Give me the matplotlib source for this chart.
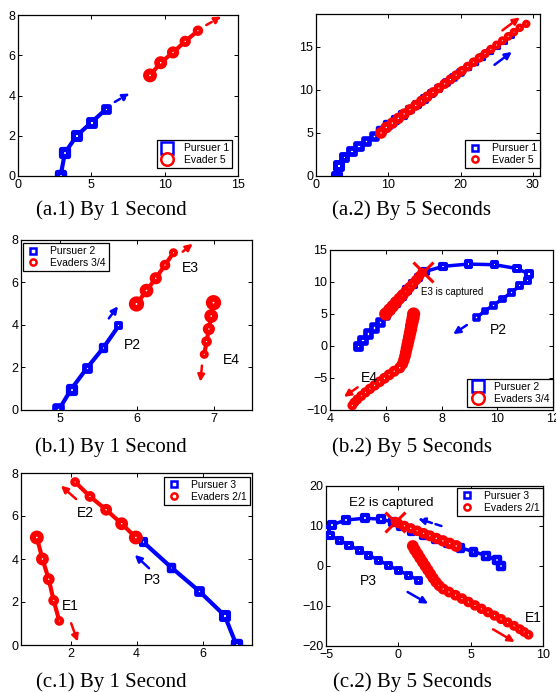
import numpy as np
import matplotlib
matplotlib.use('Agg')
from matplotlib import pyplot as plt
from matplotlib.lines import Line2D

# ---- (a) pursuer 1 / evader 5
a1_p1_x = [2.9, 3.2, 4.0, 5.0, 6.0]
a1_p1_y = [0.0, 1.15, 2.0, 2.66, 3.32]
a1_e5_x = [9.0, 9.73, 10.57, 11.4, 12.27]
a1_e5_y = [5.0, 5.63, 6.14, 6.69, 7.22]

a2_p1_x = [2.85, 3.13, 3.9, 4.94, 5.9, 6.9, 7.97, 9.0, 10.0, 11.0, 12.0, 13.0, 14.0,
           15.0, 16.0, 17.0, 18.0, 19.0, 20.0, 21.0, 22.0, 23.0, 24.0, 25.0, 26.0, 27.0]
a2_p1_y = [0.0, 1.23, 2.18, 2.87, 3.45, 4.02, 4.6, 5.25, 5.87, 6.5, 7.1, 7.72, 8.33,
           8.95, 9.56, 10.18, 10.8, 11.41, 12.03, 12.64, 13.26, 13.87, 14.49, 15.1, 15.72, 16.33]
a2_e5_x = [9.0, 9.73, 10.57, 11.4, 12.2, 13.0, 13.8, 14.6, 15.4, 16.2, 17.0, 17.8, 18.6,
           19.4, 20.2, 21.0, 21.8, 22.6, 23.4, 24.2, 25.0, 25.8, 26.6, 27.4, 28.2, 29.1]
a2_e5_y = [5.0, 5.63, 6.14, 6.69, 7.2, 7.7, 8.2, 8.7, 9.2, 9.7, 10.2, 10.7, 11.2,
           11.7, 12.2, 12.7, 13.2, 13.7, 14.2, 14.7, 15.2, 15.7, 16.2, 16.7, 17.2, 17.65]

# ---- (b) pursuer 2 / evaders 3 and 4
b1_p2_x = [4.99, 5.15, 5.36, 5.57, 5.77]
b1_p2_y = [0.0, 0.97, 1.99, 2.93, 3.97]
b1_e3_x = [6.0, 6.13, 6.25, 6.37, 6.48]
b1_e3_y = [4.99, 5.62, 6.2, 6.82, 7.4]
b1_e4_x = [7.0, 6.97, 6.94, 6.91, 6.88]
b1_e4_y = [5.05, 4.42, 3.81, 3.22, 2.62]

b2_p2_x = [5.0, 5.17, 5.35, 5.57, 5.78, 5.98, 6.17, 6.37, 6.57, 6.77, 6.97, 7.17, 7.4,
           8.06, 8.96, 9.91, 10.71, 11.14, 11.1, 10.81, 10.51, 10.19, 9.85, 9.56, 9.26]
b2_p2_y = [0.0, 0.94, 1.95, 2.9, 3.82, 4.8, 5.78, 6.76, 7.74, 8.72, 9.7, 10.68, 11.62,
           12.45, 12.8, 12.7, 12.1, 11.25, 10.3, 9.4, 8.4, 7.34, 6.36, 5.47, 4.48]
b2_e3_x = [6.0, 6.13, 6.25, 6.37, 6.49, 6.61, 6.73, 6.85, 6.97, 7.09, 7.2, 7.3]
b2_e3_y = [5.0, 5.62, 6.2, 6.82, 7.4, 7.98, 8.56, 9.14, 9.72, 10.3, 10.9, 11.45]
b2_e4_x = [7.0, 6.98, 6.95, 6.92, 6.9, 6.87, 6.84, 6.81, 6.78, 6.75, 6.72, 6.69, 6.65,
           6.6, 6.5, 6.3, 6.12, 5.95, 5.78, 5.6, 5.43, 5.27, 5.12, 4.98, 4.87, 4.8]
b2_e4_y = [5.0, 4.4, 3.8, 3.2, 2.6, 2.0, 1.4, 0.8, 0.2, -0.4, -1.0, -1.6, -2.2,
           -2.8, -3.4, -3.95, -4.5, -5.05, -5.6, -6.15, -6.7, -7.25, -7.8, -8.35, -8.85, -9.3]

# ---- (c) pursuer 3 / evaders 2 and 1
c1_p3_x = [7.03, 6.67, 5.89, 5.06, 4.21]
c1_p3_y = [0.0, 1.37, 2.52, 3.6, 4.78]
c1_e2_x = [3.98, 3.55, 3.08, 2.59, 2.14]
c1_e2_y = [5.0, 5.64, 6.29, 6.91, 7.58]
c1_e1_x = [0.98, 1.15, 1.34, 1.49, 1.66]
c1_e1_y = [5.0, 4.0, 3.06, 2.07, 1.12]

c2_p3_x = [7.1, 6.8, 6.05, 5.2, 4.3, 3.45, 2.6, 1.75, 0.9, 0.15, -0.4, -1.2, -2.3,
           -3.6, -4.6, -5.0, -4.72, -4.05, -3.4, -2.7, -2.05, -1.35, -0.7, 0.0, 0.7, 1.4]
c2_p3_y = [0.0, 1.4, 2.6, 3.6, 4.55, 5.6, 6.65, 7.7, 8.8, 9.9, 11.0, 11.7, 11.95,
           11.5, 10.3, 8.95, 7.67, 6.45, 5.2, 3.95, 2.7, 1.45, 0.2, -1.05, -2.3, -3.55]
c2_e2_x = [4.0, 3.55, 3.08, 2.62, 2.18, 1.74, 1.3, 0.86, 0.42, 0.0, -0.2]
c2_e2_y = [5.0, 5.64, 6.29, 6.92, 7.55, 8.17, 8.8, 9.42, 10.05, 10.65, 11.1]
c2_e1_x = [1.0, 1.15, 1.33, 1.5, 1.68, 1.86, 2.04, 2.22, 2.4, 2.6, 2.82, 3.1, 3.5,
           3.95, 4.4, 4.85, 5.3, 5.75, 6.2, 6.65, 7.1, 7.55, 8.0, 8.4, 8.7, 9.0]
c2_e1_y = [5.0, 4.0, 3.0, 2.0, 1.0, 0.0, -1.0, -2.0, -3.0, -4.0, -4.9, -5.75, -6.5,
           -7.3, -8.15, -9.0, -9.85, -10.7, -11.55, -12.4, -13.25, -14.1, -14.95, -15.8, -16.5, -17.2]

# heading arrows (start, end) and text labels, data coords
a1_arrows = [((6.6, 3.68), (7.6, 4.1), 'b'), ((12.84, 7.5), (13.86, 7.92), 'r')]
a2_arrows = [((25.8, 16.9), (28.2, 18.4), 'r'), ((24.7, 12.9), (27.1, 14.4), 'b')]
b1_arrows = [((5.64, 4.31), (5.76, 4.88), 'b'), ((6.6, 7.45), (6.73, 7.82), 'r'),
             ((6.85, 2.09), (6.83, 1.33), 'r')]
b2_arrows = [((8.91, 3.28), (8.42, 1.85), 'b'), ((4.99, -6.46), (4.5, -7.95), 'r')]
c1_arrows = [((2.17, 6.79), (1.71, 7.41), 'r'), ((4.38, 3.57), (3.95, 4.19), 'b'),
             ((2.02, 1.01), (2.22, 0.16), 'r')]
c2_arrows = [((2.98, 10.0), (1.37, 11.83), 'b'), ((0.64, -6.5), (2.06, -9.42), 'b'),
             ((6.55, -15.83), (8.04, -19.0), 'r')]

W, H = 556, 692
SANS = ['Liberation Sans', 'DejaVu Sans']
SERIF = ['Liberation Serif', 'DejaVu Serif']
plt.rcParams['font.family'] = SANS

fig = plt.figure(figsize=(W / 100, H / 100), dpi=100)


def make_ax(l, t, r, b, xlim, ylim, xticks, yticks):
    ax = fig.add_axes([l / W, 1 - b / H, (r - l) / W, (b - t) / H])
    ax.set_xlim(xlim)
    ax.set_ylim(ylim)
    ax.set_xticks(xticks)
    ax.set_yticks(yticks)
    ax.tick_params(direction='in', top=True, right=True, length=3, width=0.7,
                   labelsize=9, pad=2)
    for s in ax.spines.values():
        s.set_linewidth(0.9)
    return ax


def track(ax, xs, ys, color, marker, big, small, lw=2.6):
    # big/small: outer marker size in points, first -> last
    ax.plot(xs, ys, '-', color=color, lw=lw, zorder=2)
    outer = np.linspace(big, small, len(xs))
    ax.scatter(xs, ys, s=(outer * 0.57) ** 2, marker=marker, facecolors='white',
               edgecolors=color, linewidths=outer * 0.43, zorder=3)


def arrows(ax, lst, dashed=False):
    for (x0, y0), (x1, y1), c in lst:
        ls = (0, (2.5, 1.5)) if dashed else '-'
        ax.annotate('', xy=(x1, y1), xytext=(x0, y0),
                    arrowprops=dict(arrowstyle='-|>', color=c, lw=1.8,
                                    mutation_scale=10, shrinkA=0, shrinkB=0,
                                    linestyle=ls))


def legend(ax, labels, loc, anchor, big=False):
    if big:
        h = [Line2D([], [], ls='none', marker='s', ms=8, mew=1.8, mfc='white', mec='b'),
             Line2D([], [], ls='none', marker='o', ms=9, mew=1.8, mfc='white', mec='r')]
    else:
        h = [Line2D([], [], ls='none', marker='s', ms=4, mew=1.8, mfc='white', mec='b'),
             Line2D([], [], ls='none', marker='o', ms=4.5, mew=1.8, mfc='white', mec='r')]
    lg = ax.legend(h, labels, loc=loc, bbox_to_anchor=anchor, borderaxespad=0,
                   fontsize=7.5, fancybox=False, framealpha=1, edgecolor='black',
                   handlelength=1.4, handletextpad=0.9, borderpad=0.3,
                   labelspacing=0.15)
    lg.get_frame().set_linewidth(0.9)


def label(ax, x, y, s, size=10):
    ax.text(x, y, s, fontsize=size, va='center', zorder=6)


def caption(xc, yc, s):
    fig.text(xc / W, 1 - yc / H, s, ha='center', va='center', fontsize=15,
             family=SERIF)


# (a.1)
ax = make_ax(18, 15, 238, 176, (0, 15), (0, 8), [0, 5, 10, 15], [0, 2, 4, 6, 8])
track(ax, a1_p1_x, a1_p1_y, 'b', 's', 9.0, 8.0, lw=3)
track(ax, a1_e5_x, a1_e5_y, 'r', 'o', 10.0, 7.5, lw=3)
arrows(ax, a1_arrows, dashed=True)
legend(ax, ['Pursuer 1', 'Evader 5'], 'lower right', (0.973, 0.05), big=True)
caption(111, 210, '(a.1) By 1 Second')

# (a.2)
ax = make_ax(316, 14, 540, 176, (0, 31), (0, 18.8), [0, 10, 20, 30], [0, 5, 10, 15])
track(ax, a2_p1_x, a2_p1_y, 'b', 's', 8.5, 5.0, lw=2.5)
track(ax, a2_e5_x, a2_e5_y, 'r', 'o', 8.5, 6.0, lw=2.5)
arrows(ax, a2_arrows)
legend(ax, ['Pursuer 1', 'Evader 5'], 'lower right', (1.0, 0.05))
caption(411, 210, '(a.2) By 5 Seconds')

# (b.1)
ax = make_ax(21, 240, 252, 410, (4.5, 7.5), (0, 8), [5, 6, 7], [0, 2, 4, 6, 8])
track(ax, b1_p2_x, b1_p2_y, 'b', 's', 9.5, 6.5, lw=3)
track(ax, b1_e3_x, b1_e3_y, 'r', 'o', 11.0, 6.5, lw=3)
track(ax, b1_e4_x, b1_e4_y, 'r', 'o', 11.0, 6.5, lw=3)
arrows(ax, b1_arrows)
label(ax, 5.84, 3.06, 'P2')
label(ax, 6.59, 6.67, 'E3')
label(ax, 7.12, 2.35, 'E4')
legend(ax, ['Pursuer 2', 'Evaders 3/4'], 'upper left', (0.009, 0.982))
caption(111, 447, '(b.1) By 1 Second')

# (b.2)
ax = make_ax(330, 250, 553, 410, (4, 12), (-10, 15), [4, 6, 8, 10, 12],
             [-10, -5, 0, 5, 10, 15])
track(ax, b2_p2_x, b2_p2_y, 'b', 's', 8.0, 6.0, lw=2.5)
track(ax, b2_e3_x, b2_e3_y, 'r', 'o', 9.5, 7.0, lw=2.5)
track(ax, b2_e4_x, b2_e4_y, 'r', 'o', 9.5, 7.0, lw=2.5)
ax.plot(7.33, 11.5, 'x', color='r', ms=15, mew=2.2, zorder=4)
arrows(ax, b2_arrows)
label(ax, 7.27, 8.5, 'E3 is captured', size=7)
label(ax, 9.72, 2.5, 'P2')
label(ax, 5.1, -4.95, 'E4')
legend(ax, ['Pursuer 2', 'Evaders 3/4'], 'lower right', (1.0, 0.02), big=True)
caption(412, 447, '(b.2) By 5 Seconds')

# (c.1)
ax = make_ax(21, 473, 252, 645, (0.5, 7.5), (0, 8), [2, 4, 6], [0, 2, 4, 6, 8])
track(ax, c1_p3_x, c1_p3_y, 'b', 's', 9.0, 7.0, lw=3)
track(ax, c1_e2_x, c1_e2_y, 'r', 'o', 10.0, 7.0, lw=3)
track(ax, c1_e1_x, c1_e1_y, 'r', 'o', 10.0, 7.0, lw=3)
arrows(ax, c1_arrows)
label(ax, 4.21, 3.03, 'P3')
label(ax, 2.19, 6.13, 'E2')
label(ax, 1.74, 1.83, 'E1')
legend(ax, ['Pursuer 3', 'Evaders 2/1'], 'upper right', (0.991, 0.977))
caption(111, 682, '(c.1) By 1 Second')

# (c.2)
ax = make_ax(326, 486, 543, 646, (-5, 10), (-20, 20), [-5, 0, 5, 10],
             [-20, -10, 0, 10, 20])
track(ax, c2_p3_x, c2_p3_y, 'b', 's', 7.5, 6.5, lw=2.5)
track(ax, c2_e2_x, c2_e2_y, 'r', 'o', 8.5, 7.0, lw=2.5)
track(ax, c2_e1_x, c2_e1_y, 'r', 'o', 8.5, 7.0, lw=2.5)
ax.plot(-0.2, 11.1, 'x', color='r', ms=15, mew=2.2, zorder=4)
arrows(ax, c2_arrows[:1], dashed=True)
arrows(ax, c2_arrows[1:])
label(ax, -3.39, 15.75, 'E2 is captured', size=9.5)
label(ax, -2.65, -3.8, 'P3')
label(ax, 8.73, -13.0, 'E1')
legend(ax, ['Pursuer 3', 'Evaders 2/1'], 'upper right', (1.0, 0.988))
caption(412, 682, '(c.2) By 5 Seconds')

fig.savefig('out.png', dpi=100)
